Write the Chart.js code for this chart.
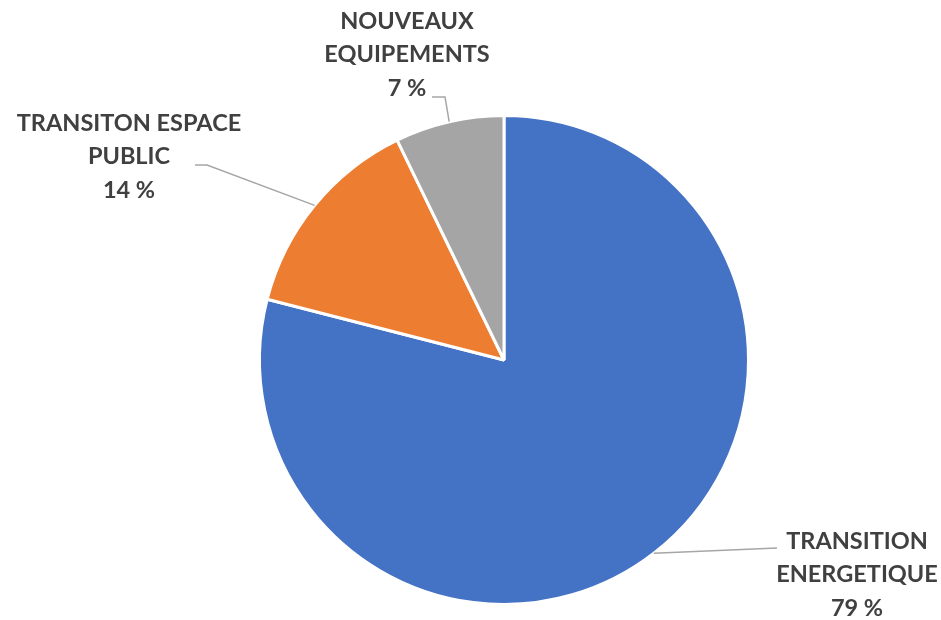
<!DOCTYPE html>
<html>
<head>
<meta charset="utf-8">
<script src="https://cdn.jsdelivr.net/npm/chart.js@4"></script>
<style>
  html, body { margin: 0; padding: 0; background: #fff; }
  #wrap { width: 941px; height: 620px; position: relative; }
</style>
</head>
<body>
<div id="wrap"><canvas id="pieChart"></canvas></div>
<script>
// Chart data
const categories = ['TRANSITION ENERGETIQUE', 'TRANSITON ESPACE PUBLIC', 'NOUVEAUX EQUIPEMENTS'];
const labelLines = [['TRANSITION', 'ENERGETIQUE'], ['TRANSITON ESPACE', 'PUBLIC'], ['NOUVEAUX', 'EQUIPEMENTS']];
const shares = [79, 13.8, 7.2];
const colors = ['#4472C4', '#ED7D31', '#A5A5A5'];

// where each label sits, and where its leader line bends / stops
const labelSpots = [
    { cx: 857, top: 541, elbow: [777, 548], end: [777, 548] },
    { cx: 129, top: 123, elbow: [207, 165], end: [195, 165] },
    { cx: 407, top: 21,  elbow: [445, 97],  end: [432, 97] }
];

const total = shares.reduce((a, b) => a + b, 0);

const calloutPlugin = {
    id: 'callouts',
    afterDraw(chart) {
        const ctx = chart.ctx;
        const arcs = chart.getDatasetMeta(0).data;
        ctx.save();
        arcs.forEach((arc, i) => {
            const p = arc.getProps(['x', 'y', 'startAngle', 'endAngle', 'outerRadius'], true);
            const mid = (p.startAngle + p.endAngle) / 2;
            const px = p.x + Math.cos(mid) * p.outerRadius;
            const py = p.y + Math.sin(mid) * p.outerRadius;
            const spot = labelSpots[i];

            // leader line
            ctx.strokeStyle = '#A6A6A6';
            ctx.lineWidth = 1.5;
            ctx.beginPath();
            ctx.moveTo(px, py);
            ctx.lineTo(spot.elbow[0], spot.elbow[1]);
            ctx.lineTo(spot.end[0], spot.end[1]);
            ctx.stroke();

            // label text
            ctx.fillStyle = '#404040';
            ctx.font = 'bold 23.5px Lato';
            ctx.textAlign = 'center';
            ctx.textBaseline = 'middle';
            const lines = labelLines[i].concat([Math.round(shares[i] / total * 100) + ' %']);
            lines.forEach((t, k) => {
                ctx.fillText(t, spot.cx, spot.top + k * 33.7);
            });
        });
        ctx.restore();
    }
};

const ctx = document.getElementById('pieChart').getContext('2d');
const pieChart = new Chart(ctx, {
    type: 'pie',
    data: {
        labels: categories,
        datasets: [{
            data: shares,
            backgroundColor: colors,
            borderColor: '#ffffff',
            borderWidth: 3
        }]
    },
    options: {
        responsive: true,
        maintainAspectRatio: false,
        animation: false,
        layout: {
            padding: { left: 258, right: 191, top: 114, bottom: 14 }
        },
        plugins: {
            legend: { display: false },
            tooltip: { enabled: false }
        }
    },
    plugins: [calloutPlugin]
});
</script>
</body>
</html>
